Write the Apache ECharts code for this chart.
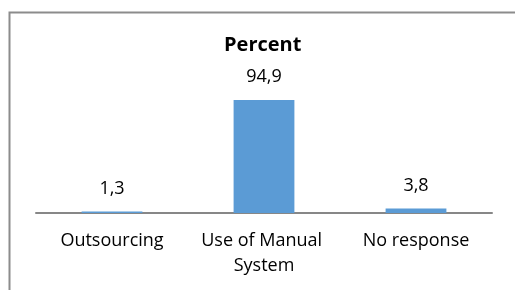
<!DOCTYPE html>
<html><head><meta charset="utf-8">
<script src="https://cdn.jsdelivr.net/npm/echarts@6/dist/echarts.min.js"></script>
<style>html,body{margin:0;padding:0;background:#fff}#c{width:515px;height:290px}</style>
</head><body><div id="c"></div>
<script>
const titleText = "Percent";
const categories = ["Outsourcing", "Use of Manual System", "No response"];
const values = [1.3, 94.9, 3.8];

const FONT = "Open Sans";
const chart = echarts.init(document.getElementById('c'), null, {renderer: 'canvas'});
chart.setOption({
  animation: false,
  backgroundColor: '#ffffff',
  graphic: [{
    type: 'rect', left: 7, top: 10,
    shape: {width: 600, height: 400},
    style: {fill: 'none', stroke: '#8c8c8c', lineWidth: 2}
  }],
  title: {
    text: titleText, left: 224, top: 35, padding: 0,
    textStyle: {fontFamily: FONT, fontWeight: 'bold', fontSize: 20, color: '#000'}
  },
  grid: {left: 36, right: 23, top: 94, bottom: 77},
  xAxis: {
    type: 'category', data: categories,
    axisLine: {lineStyle: {color: '#878787', width: 2}},
    axisTick: {show: false},
    axisLabel: {
      fontFamily: FONT, fontSize: 18, color: '#000', margin: 15,
      lineHeight: 25, width: 150, overflow: 'break', interval: 0
    }
  },
  yAxis: {
    type: 'value', min: 0, max: 100, show: false,
    splitLine: {show: false}
  },
  series: [{
    type: 'bar', data: values, barCategoryGap: '60%',
    itemStyle: {color: '#5B9BD5'},
    label: {
      show: true, position: 'top', distance: 14,
      fontFamily: FONT, fontSize: 18, color: '#000',
      formatter: p => String(p.value).replace('.', ',')
    }
  }]
});
</script></body></html>
